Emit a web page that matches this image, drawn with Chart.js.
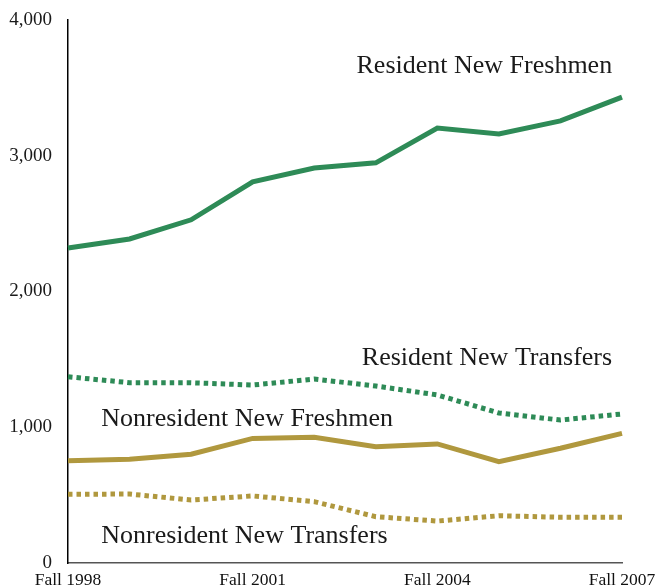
<!DOCTYPE html>
<html>
<head>
<meta charset="utf-8">
<script src="https://cdn.jsdelivr.net/npm/chart.js@4.4.0/dist/chart.umd.min.js"></script>
<style>
  html, body { margin: 0; padding: 0; background: #fff; }
  #wrap { width: 656px; height: 586px; }
</style>
</head>
<body>
<div id="wrap"><canvas id="enroll_chart" width="656" height="586"></canvas></div>
<script>
var years = ["Fall 1998", "Fall 1999", "Fall 2000", "Fall 2001", "Fall 2002",
             "Fall 2003", "Fall 2004", "Fall 2005", "Fall 2006", "Fall 2007"];
var shown_years = ["Fall 1998", "Fall 2001", "Fall 2004", "Fall 2007"];

var resident_freshmen = [2321, 2387, 2528, 2808, 2910, 2948, 3204, 3161, 3257, 3432];
var resident_transfers = [1372, 1328, 1328, 1311, 1355, 1304, 1238, 1105, 1053, 1098];
var nonresident_freshmen = [754, 764, 801, 918, 926, 857, 877, 746, 845, 955];
var nonresident_transfers = [506, 508, 464, 494, 452, 341, 309, 348, 337, 337];

var green = '#2e8b57';
var gold = '#b0983e';
var font_family = '"Liberation Serif", "Times New Roman", serif';

// series names drawn next to the lines (x as category index, y in data units)
var series_labels = [
    { text: 'Resident New Freshmen', x: 8.84, y: 3661, align: 'right' },
    { text: 'Resident New Transfers', x: 8.84, y: 1510, align: 'right' },
    { text: 'Nonresident New Freshmen', x: 0.54, y: 1061, align: 'left' },
    { text: 'Nonresident New Transfers', x: 0.54, y: 199, align: 'left' }
];

var series_label_plugin = {
    id: 'series_labels',
    afterDatasetsDraw: function (chart) {
        var ctx = chart.ctx;
        var x_scale = chart.scales.x;
        var y_scale = chart.scales.y;
        ctx.save();
        ctx.font = '26px ' + font_family;
        ctx.fillStyle = '#1a1a1a';
        ctx.textBaseline = 'middle';
        for (var i = 0; i < series_labels.length; i++) {
            var lbl = series_labels[i];
            ctx.textAlign = lbl.align;
            ctx.fillText(lbl.text, x_scale.getPixelForValue(lbl.x), y_scale.getPixelForValue(lbl.y));
        }
        ctx.restore();
    }
};

function make_line(data, colour, dotted) {
    return {
        data: data,
        borderColor: colour,
        backgroundColor: colour,
        borderWidth: 5,
        borderDash: dotted ? [4.5, 4] : [],
        borderCapStyle: 'butt',
        pointRadius: 0,
        tension: 0,
        fill: false
    };
}

// tick marks are kept but made invisible, they only push the labels off the axes
var hidden_ticks = {
    display: true,
    drawOnChartArea: false,
    drawTicks: true,
    color: 'rgba(0,0,0,0)'
};

var enroll_chart = new Chart(document.getElementById('enroll_chart').getContext('2d'), {
    type: 'line',
    data: {
        labels: years,
        datasets: [
            make_line(resident_freshmen, green, false),
            make_line(resident_transfers, green, true),
            make_line(nonresident_freshmen, gold, false),
            make_line(nonresident_transfers, gold, true)
        ]
    },
    options: {
        responsive: false,
        animation: false,
        layout: {
            padding: { top: 20, right: 34, left: 0, bottom: 0 }
        },
        plugins: {
            legend: { display: false },
            tooltip: { enabled: false }
        },
        scales: {
            x: {
                grid: Object.assign({ tickLength: 7 }, hidden_ticks),
                border: { display: true, color: '#555', width: 1.5 },
                afterFit: function (scale) { scale.height = 23; },
                ticks: {
                    autoSkip: false,
                    maxRotation: 0,
                    padding: 0,
                    color: '#111',
                    font: { family: font_family, size: 17.5 },
                    callback: function (value) {
                        var lbl = this.getLabelForValue(value);
                        return shown_years.indexOf(lbl) >= 0 ? lbl : '';
                    }
                }
            },
            y: {
                min: 0,
                max: 4000,
                grid: Object.assign({ tickLength: 12 }, hidden_ticks),
                border: { display: true, color: '#000', width: 1.5 },
                afterFit: function (scale) { scale.width = 68; },
                ticks: {
                    stepSize: 1000,
                    padding: 4,
                    color: '#1a1a1a',
                    font: { family: font_family, size: 19 },
                    callback: function (value) {
                        return value.toLocaleString('en-US');
                    }
                }
            }
        }
    },
    plugins: [series_label_plugin]
});
</script>
</body>
</html>
